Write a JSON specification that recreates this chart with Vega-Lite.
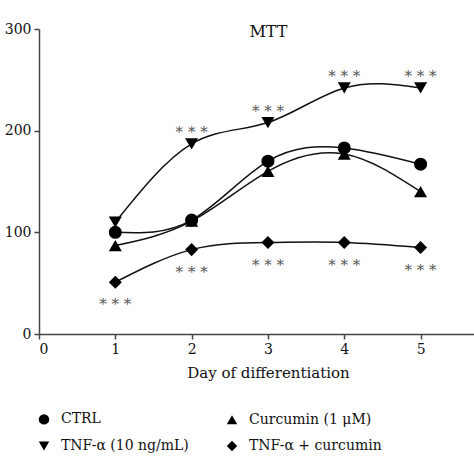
{
  "$schema": "https://vega.github.io/schema/vega-lite/v6.json",
  "autosize": {"type": "none"},
  "width": 435,
  "height": 305,
  "padding": {"left": 39, "top": 29, "right": 0, "bottom": 140},
  "background": "white",
  "config": {
    "font": "DejaVu Serif",
    "view": {"stroke": null},
    "axis": {"labelFont": "DejaVu Serif", "titleFont": "DejaVu Serif", "labelFontSize": 14, "titleFontSize": 15, "titleFontWeight": "normal", "labelColor": "#111", "titleColor": "#111", "domainColor": "#444", "tickColor": "#444", "domainWidth": 1.5, "tickWidth": 1.5, "grid": false, "tickSize": 5}
  },
  "title": {"text": "MTT", "anchor": "middle", "dx": 12, "offset": -18, "fontSize": 16, "fontWeight": "normal", "font": "DejaVu Serif", "color": "#111"},
  "data": {"values": [
    {"day": 1, "value": 100, "group": "CTRL"},
    {"day": 2, "value": 112, "group": "CTRL"},
    {"day": 3, "value": 170, "group": "CTRL"},
    {"day": 4, "value": 183, "group": "CTRL"},
    {"day": 5, "value": 167, "group": "CTRL"},
    {"day": 1, "value": 87, "group": "Curcumin (1 μM)"},
    {"day": 2, "value": 111, "group": "Curcumin (1 μM)"},
    {"day": 3, "value": 160, "group": "Curcumin (1 μM)"},
    {"day": 4, "value": 177, "group": "Curcumin (1 μM)"},
    {"day": 5, "value": 140, "group": "Curcumin (1 μM)"},
    {"day": 1, "value": 110, "group": "TNF-α (10 ng/mL)", "sig": ""},
    {"day": 2, "value": 187, "group": "TNF-α (10 ng/mL)", "sig": "* * *"},
    {"day": 3, "value": 208, "group": "TNF-α (10 ng/mL)", "sig": "* * *"},
    {"day": 4, "value": 242, "group": "TNF-α (10 ng/mL)", "sig": "* * *"},
    {"day": 5, "value": 242, "group": "TNF-α (10 ng/mL)", "sig": "* * *"},
    {"day": 1, "value": 51, "group": "TNF-α + curcumin", "sig": "* * *"},
    {"day": 2, "value": 83, "group": "TNF-α + curcumin", "sig": "* * *"},
    {"day": 3, "value": 90, "group": "TNF-α + curcumin", "sig": "* * *"},
    {"day": 4, "value": 90, "group": "TNF-α + curcumin", "sig": "* * *"},
    {"day": 5, "value": 85, "group": "TNF-α + curcumin", "sig": "* * *"}
  ]},
  "encoding": {
    "x": {"field": "day", "type": "quantitative", "scale": {"domain": [0, 5.7], "nice": false, "zero": true}, "axis": {"values": [0, 1, 2, 3, 4, 5], "title": "Day of differentiation", "titlePadding": 9, "labelPadding": 3, "titleX": 229, "titleAnchor": "middle", "titleAlign": "center"}},
    "y": {"field": "value", "type": "quantitative", "scale": {"domain": [0, 300], "nice": false}, "axis": {"values": [0, 100, 200, 300], "title": null, "labelPadding": 3}}
  },
  "layer": [
    {
      "mark": {"type": "line", "interpolate": "natural", "color": "#111", "strokeWidth": 1.5},
      "encoding": {"detail": {"field": "group"}}
    },
    {
      "mark": {"type": "point", "filled": true, "color": "#000", "opacity": 1, "size": 170},
      "encoding": {
        "shape": {"field": "group", "type": "nominal",
          "scale": {"domain": ["CTRL", "Curcumin (1 μM)", "TNF-α (10 ng/mL)", "TNF-α + curcumin"], "range": ["circle", "triangle-up", "triangle-down", "diamond"]},
          "legend": {"title": null, "orient": "none", "legendX": -2, "legendY": 383, "columns": 2, "columnPadding": 34, "rowPadding": 9, "labelFontSize": 14, "labelFont": "DejaVu Serif", "labelColor": "#111", "symbolSize": 110, "symbolFillColor": "#000", "symbolStrokeColor": "#000", "labelOffset": 10, "direction": "horizontal"}
        }
      }
    },
    {
      "transform": [{"filter": "datum.group == 'TNF-α (10 ng/mL)'"}],
      "mark": {"type": "text", "dy": -12, "fontSize": 15, "color": "#555", "font": "DejaVu Serif"},
      "encoding": {"text": {"field": "sig"}}
    },
    {
      "transform": [{"filter": "datum.group == 'TNF-α + curcumin'"}],
      "mark": {"type": "text", "dy": 22, "fontSize": 15, "color": "#555", "font": "DejaVu Serif"},
      "encoding": {"text": {"field": "sig"}}
    }
  ]
}
